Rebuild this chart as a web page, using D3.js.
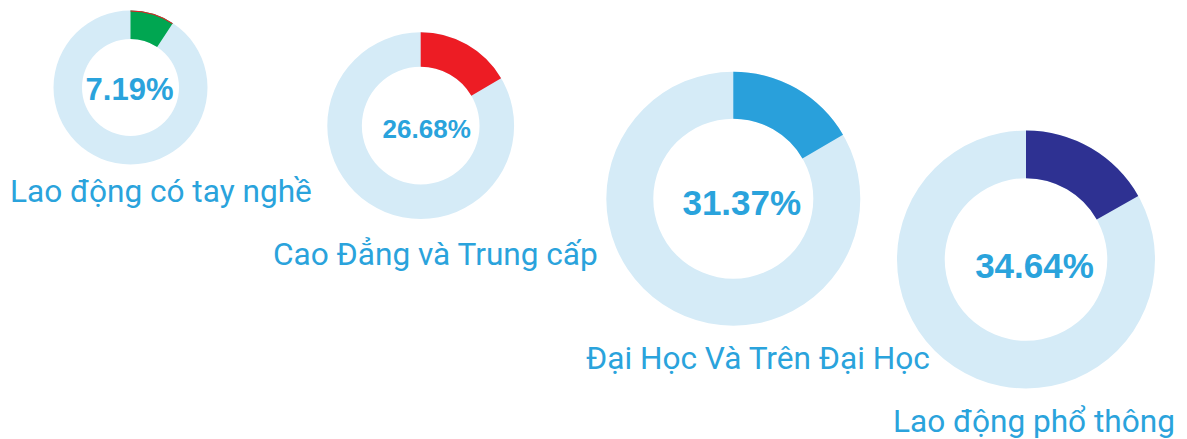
<!DOCTYPE html>
<html>
<head>
<meta charset="utf-8">
<script src="https://cdn.jsdelivr.net/npm/d3@7"></script>
<style>
  html, body { margin: 0; padding: 0; background: #fff; }
  svg { display: block; }
</style>
</head>
<body>
<div class="donut-panel"></div>
<script>
// data
const categories = ['Lao động có tay nghề', 'Cao Đẳng và Trung cấp', 'Đại Học Và Trên Đại Học', 'Lao động phổ thông']
const percents = [7.19, 26.68, 31.37, 34.64]
// share of the ring that is coloured (as drawn, not the percent)
const arcShares = [0.0925, 0.165, 0.166, 0.168]

// layout
const colors = ['#00a651', '#ed1c24', '#29a0db', '#2e3192']
const centers = [[130.5, 87.5], [420.7, 125.7], [733.3, 198.7], [1026, 259.5]]
const radii = [77, 93.4, 127, 129]
const pctSize = [31, 26, 35, 35]
const pctOffset = [[-1, 12.5], [6, 12.3], [8.5, 16.3], [8.5, 18.5]]
const labelPos = [[10, 202], [273, 265], [586, 369], [893, 432]]

const width = 1187
const height = 439
const ringColor = '#d5ebf7'
const textColor = '#2aa3dc'

const svg = d3.select('.donut-panel').append('svg')
  .attr('width', width)
  .attr('height', height)

const tau = 2 * Math.PI

categories.forEach(function (name, i) {
  const r = radii[i]
  const arc = d3.arc()
    .innerRadius(r * 0.63)
    .outerRadius(r)
    .startAngle(0)

  const g = svg.append('g')
    .attr('class', 'donut')
    .attr('transform', 'translate(' + centers[i][0] + ',' + centers[i][1] + ')')

  g.append('path')
    .attr('d', arc({ endAngle: tau }))
    .attr('fill', ringColor)

  g.append('path')
    .attr('d', arc({ endAngle: arcShares[i] * tau }))
    .attr('fill', colors[i])

  // thin red edge visible on the first donut
  if (i === 0) {
    g.append('path')
      .attr('d', d3.arc().innerRadius(r - 1).outerRadius(r).startAngle(0)({ endAngle: arcShares[i] * tau }))
      .attr('fill', colors[1])
  }

  g.append('text')
    .attr('text-anchor', 'middle')
    .attr('x', pctOffset[i][0])
    .attr('y', pctOffset[i][1])
    .attr('font-family', '"Liberation Sans", Arial, sans-serif')
    .attr('font-weight', 'bold')
    .attr('font-size', pctSize[i] + 'px')
    .attr('fill', textColor)
    .text(d3.format('.2f')(percents[i]) + '%')

  svg.append('text')
    .attr('class', 'label')
    .attr('x', labelPos[i][0])
    .attr('y', labelPos[i][1])
    .attr('font-family', 'Roboto, sans-serif')
    .attr('font-size', '31.6px')
    .attr('fill', textColor)
    .text(name)
})
</script>
</body>
</html>
